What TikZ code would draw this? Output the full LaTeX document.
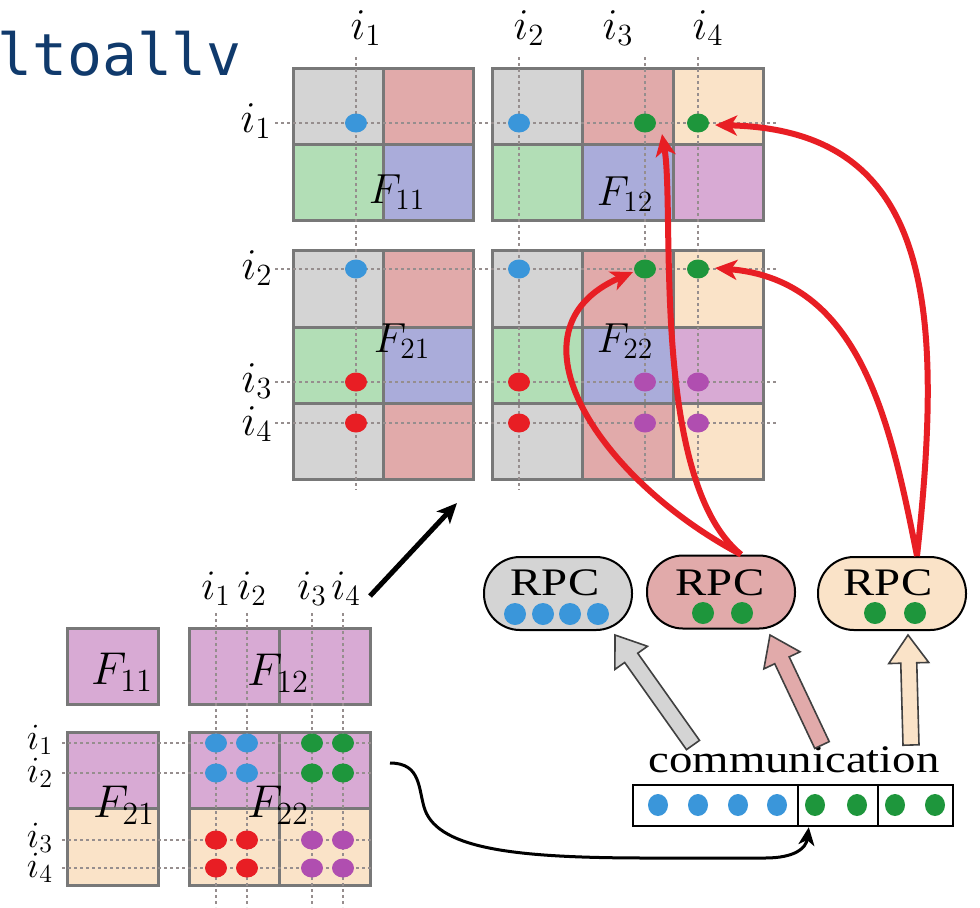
\RequirePackage{fix-cm}
\documentclass[tikz,border=0pt]{standalone}
\usepackage{fontspec}
\newfontfamily\titlemono{DejaVu Sans Mono}
\newfontfamily\serifwide[FakeStretch=1.2]{Liberation Serif}
\usetikzlibrary{arrows.meta,calc}
\definecolor{titleblue}{RGB}{16,58,108}
\definecolor{cgray}{RGB}{212,212,212}
\definecolor{cred}{RGB}{225,170,170}
\definecolor{cgreen}{RGB}{178,222,182}
\definecolor{cblue}{RGB}{170,172,218}
\definecolor{cpeach}{RGB}{250,227,200}
\definecolor{cpurple}{RGB}{216,170,212}
\definecolor{cborder}{RGB}{120,120,120}
\definecolor{guidecol}{RGB}{150,142,142}
\definecolor{dblue}{RGB}{58,150,218}
\definecolor{dgreen}{RGB}{30,150,60}
\definecolor{dred}{RGB}{232,30,36}
\definecolor{dpurple}{RGB}{176,78,176}
\definecolor{arrred}{RGB}{232,30,36}
\newcommand\gcell[5]{\filldraw[cell,fill=#5] (#1,#2) rectangle (#3,#4);}
\newcommand\dotat[3]{\fill[#1] (#2,#3) ellipse [x radius=5.5pt, y radius=4.75pt];}
\newcommand\rdot[3]{\fill[#1] (#2,#3) circle [radius=5.5pt];}
\newcommand\fatarrow[3]{%
  \coordinate (hb) at ($(#2)!14pt!(#1)$);
  \filldraw[hollowarrow, fill=#3] ($(#1)!4pt!90:(#2)$) -- ($(hb)!4pt!90:(#2)$) -- ($(hb)!10pt!90:(#2)$) -- (#2) -- ($(hb)!10pt!-90:(#2)$) -- ($(hb)!4pt!-90:(#2)$) -- ($(#1)!4pt!-90:(#2)$) -- cycle;}
\begin{document}
\begin{tikzpicture}[x=0.5pt,y=-0.5pt,
  cell/.style={draw=cborder, line width=1.5pt},
  guide/.style={draw=guidecol, line width=1.4pt, dash pattern=on 1.4pt off 1.6pt},
  lab/.style={font=\fontsize{22}{24}\selectfont, inner sep=0pt},
  blab/.style={font=\fontsize{21}{23}\selectfont, inner sep=0pt},
  sblab/.style={font=\fontsize{18.5}{20}\selectfont, inner sep=0pt},
  flab/.style={font=\fontsize{21}{24}\selectfont, inner sep=0pt},
  bflab/.style={font=\fontsize{23}{27}\selectfont, inner sep=0pt},
  rpc/.style={draw=black, line width=1pt, minimum width=74pt, minimum height=36.5pt, rounded corners=18pt, inner sep=0pt},
  rpctext/.style={font=\serifwide\fontsize{19.5}{22}\selectfont, inner sep=0pt},
  commbox/.style={draw=black, line width=1.2pt, minimum height=20.5pt, inner sep=0pt},
  hollowarrow/.style={draw=black!75, line width=0.8pt, line join=miter},
  redarrow/.style={draw=arrred, line width=3pt, -{Stealth[length=11pt,width=10pt,inset=3pt]}},
  blackarrow/.style={draw=black, line width=2.5pt, -{Stealth[length=10pt,width=9pt,inset=2.5pt]}},
  curvearrow/.style={draw=black, line width=1.5pt, -{Stealth[length=9pt,width=8pt,inset=2.5pt]}}
]
\useasboundingbox (0,0) rectangle (980,907);
\fill[white] (0,0) rectangle (980,907);

% title
\node[anchor=base west, text=titleblue, font=\titlemono\fontsize{29}{32}\selectfont, inner sep=0pt] (title) at (-3,75) {ltoallv};

% ---------- top grids ----------
% F11
\gcell{293}{68}{383}{144}{cgray}
\gcell{383}{68}{473}{144}{cred}
\gcell{293}{144}{383}{220}{cgreen}
\gcell{383}{144}{473}{220}{cblue}
% F12
\gcell{492}{68}{582}{144}{cgray}
\gcell{582}{68}{673}{144}{cred}
\gcell{673}{68}{763}{144}{cpeach}
\gcell{492}{144}{582}{220}{cgreen}
\gcell{582}{144}{673}{220}{cblue}
\gcell{673}{144}{763}{220}{cpurple}
% F21
\gcell{293}{250}{383}{327}{cgray}
\gcell{383}{250}{473}{327}{cred}
\gcell{293}{327}{383}{403}{cgreen}
\gcell{383}{327}{473}{403}{cblue}
\gcell{293}{403}{383}{479}{cgray}
\gcell{383}{403}{473}{479}{cred}
% F22
\gcell{492}{250}{582}{327}{cgray}
\gcell{582}{250}{673}{327}{cred}
\gcell{673}{250}{763}{327}{cpeach}
\gcell{492}{327}{582}{403}{cgreen}
\gcell{582}{327}{673}{403}{cblue}
\gcell{673}{327}{763}{403}{cpurple}
\gcell{492}{403}{582}{479}{cgray}
\gcell{582}{403}{673}{479}{cred}
\gcell{673}{403}{763}{479}{cpeach}

% guides
\foreach \gx in {356,519,645,698} {\draw[guide] (\gx,57) -- (\gx,490);}
\foreach \gy in {123,269,382,423} {\draw[guide] (275,\gy) -- (777,\gy);}

% dots
\foreach \gy in {123,269} {\dotat{dblue}{356}{\gy}\dotat{dblue}{519}{\gy}\dotat{dgreen}{645}{\gy}\dotat{dgreen}{698}{\gy}}
\foreach \gy in {382,423} {\dotat{dred}{356}{\gy}\dotat{dred}{519}{\gy}\dotat{dpurple}{645}{\gy}\dotat{dpurple}{698}{\gy}}
\coordinate (d13) at (645,123);
\coordinate (d14) at (698,123);
\coordinate (d23) at (645,269);
\coordinate (d24) at (698,269);

% labels
\node[lab] (ti1) at (366,28) {$i_1$};
\node[lab] (ti2) at (529,28) {$i_2$};
\node[lab] (ti3) at (618,28) {$i_3$};
\node[lab] (ti4) at (708,28) {$i_4$};
\node[lab] (li1) at (256,121) {$i_1$};
\node[lab] (li2) at (257,268) {$i_2$};
\node[lab] (li3) at (257,381) {$i_3$};
\node[lab] (li4) at (257,424) {$i_4$};
\node[flab] (tF11) at (397,192) {$F_{11}$};
\node[flab] (tF12) at (625,194) {$F_{12}$};
\node[flab] (tF21) at (402,341) {$F_{21}$};
\node[flab] (tF22) at (625,341) {$F_{22}$};

% ---------- bottom-left grid ----------
\gcell{67}{628}{158}{704}{cpurple}
\gcell{189}{628}{279}{704}{cpurple}
\gcell{279}{628}{370}{704}{cpurple}
\gcell{67}{732}{158}{808}{cpurple}
\gcell{67}{808}{158}{885}{cpeach}
\gcell{189}{732}{279}{808}{cpurple}
\gcell{279}{732}{370}{808}{cpurple}
\gcell{189}{808}{279}{885}{cpeach}
\gcell{279}{808}{370}{885}{cpeach}

\foreach \gx in {216,247,312,343} {\draw[guide] (\gx,613) -- (\gx,907);}
\foreach \gy in {743,773,840,868} {\draw[guide] (62,\gy) -- (372,\gy);}

\foreach \gy in {743,773} {\dotat{dblue}{216}{\gy}\dotat{dblue}{247}{\gy}\dotat{dgreen}{312}{\gy}\dotat{dgreen}{343}{\gy}}
\foreach \gy in {840,868} {\dotat{dred}{216}{\gy}\dotat{dred}{247}{\gy}\dotat{dpurple}{312}{\gy}\dotat{dpurple}{343}{\gy}}

\node[blab] (bi1) at (216,589) {$i_1$};
\node[blab] (bi2) at (252,589) {$i_2$};
\node[blab] (bi3) at (312,589) {$i_3$};
\node[blab] (bi4) at (346,589) {$i_4$};
\node[sblab] (bl1) at (40,740) {$i_1$};
\node[sblab] (bl2) at (40,773) {$i_2$};
\node[sblab] (bl3) at (40,838) {$i_3$};
\node[sblab] (bl4) at (40,868) {$i_4$};
\node[bflab] (bF11) at (122,672) {$F_{11}$};
\node[bflab] (bF12) at (278,673) {$F_{12}$};
\node[bflab] (bF21) at (124,805) {$F_{21}$};
\node[bflab] (bF22) at (278,805) {$F_{22}$};

% ---------- RPC nodes ----------
\node[rpc, fill=cgray] (rpc1) at (558,593.5) {};
\node[rpc, fill=cred] (rpc2) at (721,592) {};
\node[rpc, fill=cpeach] (rpc3) at (892,593.5) {};
\node[rpctext, anchor=base] (rpc1t) at (555,595) {RPC};
\node[rpctext, anchor=base] (rpc2t) at (720,595) {RPC};
\node[rpctext, anchor=base] (rpc3t) at (888,595) {RPC};
\foreach \gx in {515,543,570,598} {\rdot{dblue}{\gx}{614}}
\rdot{dgreen}{703}{613}\rdot{dgreen}{742}{613}
\rdot{dgreen}{875}{613}\rdot{dgreen}{915}{613}

% ---------- communication ----------
\node[rpctext, anchor=base] (comm) at (794,772) {communication};
\node[commbox, minimum width=82.5pt] (cb1) at (715.5,805.5) {};
\node[commbox, minimum width=40pt] (cb2) at (838,805.5) {};
\node[commbox, minimum width=37.5pt] (cb3) at (915.5,805.5) {};
\foreach \gx in {658,698,738,777} {\fill[dblue] (\gx,805) ellipse [x radius=5pt, y radius=5.5pt];}
\foreach \gx in {815,857,895,935} {\fill[dgreen] (\gx,805) ellipse [x radius=5pt, y radius=5.5pt];}

% hollow arrows
\coordinate (ha1s) at (693,745); \coordinate (ha1e) at (615,635);
\coordinate (ha2s) at (822,745); \coordinate (ha2e) at (770,635);
\coordinate (ha3s) at (911,745); \coordinate (ha3e) at (908,635);
\fatarrow{ha1s}{ha1e}{cgray}
\fatarrow{ha2s}{ha2e}{cred}
\fatarrow{ha3s}{ha3e}{cpeach}

% black arrows
\coordinate (bas) at (370,596);
\coordinate (bae) at (457,503);
\draw[blackarrow] (bas) -- (bae);
\coordinate (cas) at (390,763);
\draw[curvearrow] (cas) .. controls (422,763) and (418,790) .. (425,810)
  .. controls (440,850) and (520,858) .. (650,858) -- (765,858)
  .. controls (795,858) and (806,848) .. ($(cb2.south west)+(12,0)$);

% red arrows
\draw[redarrow] ([xshift=10pt]rpc2.north) .. controls (600,480) and (500,330) .. ($(d23)+(-12,3)$);
\draw[redarrow] ([xshift=10pt]rpc2.north) .. controls (650,480) and (675,210) .. ($(d13)+(17,11)$);
\draw[redarrow] ([xshift=12.5pt]rpc3.north) .. controls (890,420) and (860,280) .. ($(d24)+(17,-1)$);
\draw[redarrow] ([xshift=12.5pt]rpc3.north) .. controls (945,300) and (930,130) .. ($(d14)+(17,2)$);
\end{tikzpicture}
\end{document}
